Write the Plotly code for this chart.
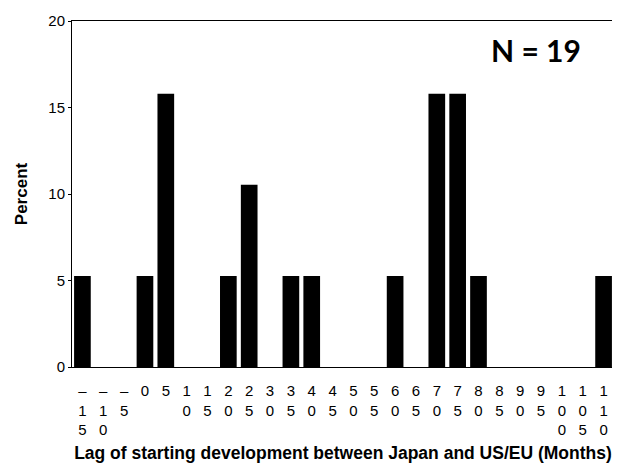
import plotly.graph_objects as go

lags = [-15, -10, -5, 0, 5, 10, 15, 20, 25, 30, 35, 40, 45, 50, 55, 60, 65, 70, 75, 80, 85, 90, 95, 100, 105, 110]
percent = [5.26, 0, 0, 5.26, 15.79, 0, 0, 5.26, 10.53, 0, 5.26, 5.26, 0, 0, 0, 5.26, 0, 15.79, 15.79, 5.26, 0, 0, 0, 0, 0, 5.26]
tick_labels = ["<br>".join(list(str(v).replace("-", "\u2013"))) for v in lags]
y_ticks = [0, 5, 10, 15, 20]

cats = [str(v) for v in lags]

# page body has an 8px default margin, so the figure is sized to fit the 620x463 window
W, H = 612, 455
ML, MR, MT, MB = 64, 6, 13, 96

fig = go.Figure()
fig.add_trace(go.Bar(x=cats, y=percent, marker=dict(color="black", line=dict(width=0)), width=0.8))

fig.update_layout(
    width=W, height=H,
    margin=dict(l=ML, r=MR, t=MT, b=MB),
    paper_bgcolor="white", plot_bgcolor="white",
    showlegend=False,
    font=dict(family="Liberation Sans, Arial", color="black"),
)
fig.update_xaxes(
    type="category", automargin=False,
    tickmode="array", tickvals=cats, ticktext=tick_labels,
    tickangle=0,
    tickfont=dict(size=15),
    ticklabelstandoff=10,
    showline=True, linecolor="black", linewidth=1, mirror=True,
    ticks="", showgrid=False,
    title=dict(text="<b>Lag of starting development between Japan and US/EU (Months)</b>", font=dict(size=17.5), standoff=11),
)
fig.update_yaxes(
    range=[0, 20], automargin=False,
    tickmode="array", tickvals=y_ticks,
    tickfont=dict(size=15),
    showline=True, linecolor="black", linewidth=1, mirror=True,
    ticks="outside", ticklen=3, tickcolor="black",
    showgrid=False, zeroline=False,
    title=dict(text="<b>Percent</b>", font=dict(size=17), standoff=16),
)
fig.add_annotation(
    x=(583 - 8 - ML) / (W - ML - MR), y=1 - (50 - 8 - MT) / (H - MT - MB),
    xref="paper", yref="paper",
    xanchor="right", yanchor="middle",
    text="<b>N = 19</b>", showarrow=False,
    font=dict(family="Lato, Open Sans", size=30, color="black"),
)
fig.write_html("out.html")
